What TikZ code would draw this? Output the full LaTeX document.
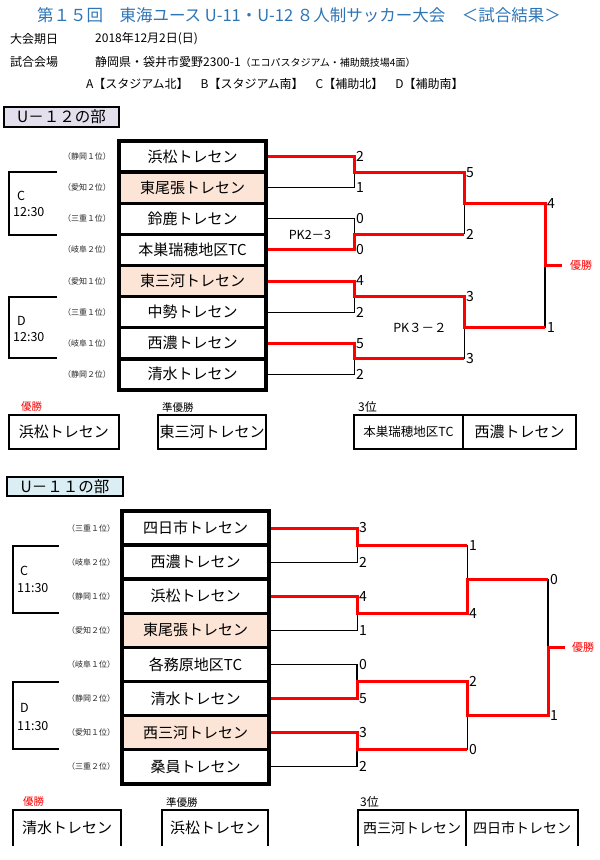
\documentclass[tikz,border=0pt]{standalone}
\usepackage{fontspec}
\setmainfont{Noto Sans CJK JP}
\usetikzlibrary{positioning,calc}
\definecolor{titleblue}{RGB}{46,117,182}
\definecolor{peach}{RGB}{252,228,214}
\definecolor{lavender}{RGB}{228,223,236}
\definecolor{paleblue}{RGB}{218,238,243}
\newcommand{\fsz}[1]{\fontsize{#1}{#1}\selectfont}

\begin{document}
\begin{tikzpicture}[x=1pt, y=-1pt,
  team/.style={draw, line width=3.5pt, minimum width=147pt, inner sep=0pt, outer sep=1.75pt, font=\fsz{15}},
  seed/.style={font=\fsz{8}, text=black!85},
  score/.style={anchor=west, inner sep=0pt, font=\fsz{14}},
  pk/.style={inner sep=0pt, font=\fsz{12.5}},
  info/.style={anchor=west, inner sep=0pt, font=\fsz{12}},
  head/.style={draw, line width=2pt, inner sep=0pt, font=\fsz{15.5}},
  win/.style={draw=red, line width=3pt},
  lose/.style={draw=black, line width=1pt},
  slot/.style={line width=1.5pt},
  tlabel/.style={anchor=west, inner sep=0pt, font=\fsz{12.5}},
  rank/.style={anchor=west, inner sep=0pt, font=\fsz{10.5}},
  resbox/.style={inner sep=0pt, outer sep=0pt, font=\fsz{15}},
  resline/.style={line width=1.8pt}
]
\useasboundingbox (0,0) rectangle (600,860);

\node[font=\fsz{16.5}, text=titleblue] (title) at (299,15) {第１５回　東海ユース U-11・U-12 ８人制サッカー大会　＜試合結果＞};
\node[info] (datekey) at (10,39) {大会期日};
\node[info] (date) at (95,39) {2018年12月2日(日)};
\node[info] (placekey) at (10,62) {試合会場};
\node[info] (place) at (95,62) {静岡県・袋井市愛野2300-1\fsz{10}（エコパスタジアム・補助競技場4面）};
\node[info] (fields) at (86,84) {A【スタジアム北】　B【スタジアム南】　C【補助北】　D【補助南】};

\node[head, fill=lavender, minimum width=115pt, minimum height=20pt] (u12head) at (61.5,116.5) {U－１２の部};

\node[team, minimum height=31.1pt] (a1) at (192.5,156.6) {浜松トレセン};
\node[team, minimum height=31.1pt, fill=peach] (a2) at (192.5,187.7) {東尾張トレセン};
\node[team, minimum height=31.1pt] (a3) at (192.5,218.8) {鈴鹿トレセン};
\node[team, minimum height=31.1pt] (a4) at (192.5,249.9) {本巣瑞穂地区TC};
\node[team, minimum height=31.1pt, fill=peach] (a5) at (192.5,281) {東三河トレセン};
\node[team, minimum height=31.1pt] (a6) at (192.5,312.1) {中勢トレセン};
\node[team, minimum height=31.1pt] (a7) at (192.5,343.2) {西濃トレセン};
\node[team, minimum height=31.1pt] (a8) at (192.5,374.3) {清水トレセン};

\node[seed] (a1s) at (87,156.6) {（静岡１位）};
\node[seed] (a2s) at (87,187.7) {（愛知２位）};
\node[seed] (a3s) at (87,218.8) {（三重１位）};
\node[seed] (a4s) at (87,249.9) {（岐阜２位）};
\node[seed] (a5s) at (87,281) {（愛知１位）};
\node[seed] (a6s) at (87,312.1) {（三重１位）};
\node[seed] (a7s) at (87,343.2) {（岐阜１位）};
\node[seed] (a8s) at (87,374.3) {（静岡２位）};

\draw[slot] (57,172) -| (9,235) -- (57,235);
\node[tlabel] (acslot) at (17,196) {C};
\node[tlabel] (actime) at (13,212) {12:30};
\draw[slot] (57,297) -| (9,358) -- (57,358);
\node[tlabel] (adslot) at (17,321) {D};
\node[tlabel] (adtime) at (13,337) {12:30};

\coordinate (am1) at (354,172.15);
\coordinate (am2) at (354,234.35);
\coordinate (am3) at (354,296.55);
\coordinate (am4) at (354,358.75);
\coordinate (ak1) at (464,172.15);
\coordinate (ak2) at (464,234.35);
\coordinate (ak3) at (464,296.55);
\coordinate (ak4) at (464,358.75);
\coordinate (an1) at (464,203.25);
\coordinate (an2) at (464,327.65);
\coordinate (af1) at (545,203.25);
\coordinate (af2) at (545,327.65);
\coordinate (ag) at (545,265.45);
\coordinate (aw) at (562,265.45);

\draw[lose] (a2.east) -| (am1);
\draw[lose] (a3.east) -| (am2);
\draw[lose] (a6.east) -| (am3);
\draw[lose] (a8.east) -| (am4);
\draw[lose] (ak2) -- (an1);
\draw[lose] (ak4) -- (an2);
\draw[lose, line width=1.6pt] (af2) -- (ag);
\draw[win] (a1.east) -| (am1) -- (ak1) -- (an1) -- (af1) -- (ag) -- (aw);
\draw[win] (a4.east) -| (am2) -- (ak2);
\draw[win] (a5.east) -| (am3) -- (ak3) -- (an2) -- (af2);
\draw[win] (a7.east) -| (am4) -- (ak4);

\node[score] (a1p) at (356,156.6) {2};
\node[score] (a2p) at (356,187.7) {1};
\node[score] (a3p) at (356,218.8) {0};
\node[score] (a4p) at (356,249.9) {0};
\node[score] (a5p) at (356,281) {4};
\node[score] (a6p) at (356,312.1) {2};
\node[score] (a7p) at (356,343.2) {5};
\node[score] (a8p) at (356,374.3) {2};
\node[score] (ak1p) at (466,172.15) {5};
\node[score] (ak2p) at (466,234.35) {2};
\node[score] (ak3p) at (466,296.55) {3};
\node[score] (ak4p) at (466,358.75) {3};
\node[score] (af1p) at (547,203.25) {4};
\node[score] (af2p) at (547,327.65) {1};
\node[pk] (apk1) at (310,235) {PK2－3};
\node[pk] (apk2) at (420,328) {PK３－２};
\node[rank, font=\fsz{11}, text=red] (awin) at (570,265.45) {優勝};

\node[rank, text=red] (a1rank) at (21,407) {優勝};
\node[rank] (a2rank) at (162,407) {準優勝};
\node[rank, font=\fsz{12}] (a3rank) at (358,407) {3位};
\node[resbox, draw, line width=2pt, minimum width=110pt, minimum height=34pt] (afirst) at (64,432) {浜松トレセン};
\node[resbox, draw, line width=2pt, minimum width=108pt, minimum height=34pt] (asecond) at (212,432) {東三河トレセン};
\node[resbox, draw, line width=1.6pt, minimum width=109pt, minimum height=34pt, font=\fsz{12.5}] (athird) at (408.5,432) {本巣瑞穂地区TC};
\node[resbox, draw, line width=1.6pt, minimum width=113pt, minimum height=34pt] (athirdb) at (519.5,432) {西濃トレセン};

\node[head, fill=paleblue, minimum width=116pt, minimum height=19pt] (u11head) at (65,486.5) {U－１１の部};

\node[team, minimum height=34.1pt] (b1) at (195.5,528) {四日市トレセン};
\node[team, minimum height=34.1pt] (b2) at (195.5,562.1) {西濃トレセン};
\node[team, minimum height=34.1pt] (b3) at (195.5,596.2) {浜松トレセン};
\node[team, minimum height=34.1pt, fill=peach] (b4) at (195.5,630.3) {東尾張トレセン};
\node[team, minimum height=34.1pt] (b5) at (195.5,664.4) {各務原地区TC};
\node[team, minimum height=34.1pt] (b6) at (195.5,698.5) {清水トレセン};
\node[team, minimum height=34.1pt, fill=peach] (b7) at (195.5,732.6) {西三河トレセン};
\node[team, minimum height=34.1pt] (b8) at (195.5,766.7) {桑員トレセン};

\node[seed] (b1s) at (91,528) {（三重１位）};
\node[seed] (b2s) at (91,562.1) {（岐阜２位）};
\node[seed] (b3s) at (91,596.2) {（静岡１位）};
\node[seed] (b4s) at (91,630.3) {（愛知２位）};
\node[seed] (b5s) at (91,664.4) {（岐阜１位）};
\node[seed] (b6s) at (91,698.5) {（静岡２位）};
\node[seed] (b7s) at (91,732.6) {（愛知１位）};
\node[seed] (b8s) at (91,766.7) {（三重２位）};

\draw[slot] (59,546) -| (13,613) -- (59,613);
\node[tlabel] (bcslot) at (20,571) {C};
\node[tlabel] (bctime) at (17,588) {11:30};
\draw[slot] (59,682) -| (13,749) -- (59,749);
\node[tlabel] (bdslot) at (20,708) {D};
\node[tlabel] (bdtime) at (17,726) {11:30};

\coordinate (bm1) at (357,545.05);
\coordinate (bm2) at (357,613.25);
\coordinate (bm3) at (357,681.45);
\coordinate (bm4) at (357,749.65);
\coordinate (bk1) at (467,545.05);
\coordinate (bk2) at (467,613.25);
\coordinate (bk3) at (467,681.45);
\coordinate (bk4) at (467,749.65);
\coordinate (bn1) at (467,579.15);
\coordinate (bn2) at (467,715.55);
\coordinate (bf1) at (548,579.15);
\coordinate (bf2) at (548,715.55);
\coordinate (bg) at (548,647.35);
\coordinate (bw) at (565,647.35);

\draw[lose] (b2.east) -| (bm1);
\draw[lose] (b4.east) -| (bm2);
\draw[lose, line width=1.5pt] (b5.east) -| (bm3);
\draw[lose, line width=1.5pt] (b8.east) -| (bm4);
\draw[lose] (bk1) -- (bn1);
\draw[lose] (bk4) -- (bn2);
\draw[lose, line width=1.6pt] (bf1) -- (bg);
\draw[win] (b1.east) -| (bm1) -- (bk1);
\draw[win] (b3.east) -| (bm2) -- (bk2) -- (bn1) -- (bf1);
\draw[win] (b6.east) -| (bm3) -- (bk3) -- (bn2) -- (bf2) -- (bg) -- (bw);
\draw[win] (b7.east) -| (bm4) -- (bk4);

\node[score] (b1p) at (359,528) {3};
\node[score] (b2p) at (359,562.1) {2};
\node[score] (b3p) at (359,596.2) {4};
\node[score] (b4p) at (359,630.3) {1};
\node[score] (b5p) at (359,664.4) {0};
\node[score] (b6p) at (359,698.5) {5};
\node[score] (b7p) at (359,732.6) {3};
\node[score] (b8p) at (359,766.7) {2};
\node[score] (bk1p) at (469,545.05) {1};
\node[score] (bk2p) at (469,613.25) {4};
\node[score] (bk3p) at (469,681.45) {2};
\node[score] (bk4p) at (469,749.65) {0};
\node[score] (bf1p) at (550,579.15) {0};
\node[score] (bf2p) at (550,715.55) {1};
\node[rank, font=\fsz{11}, text=red] (bwin) at (572,647.35) {優勝};

\node[rank, text=red] (b1rank) at (23,802) {優勝};
\node[rank] (b2rank) at (166,802) {準優勝};
\node[rank, font=\fsz{12}] (b3rank) at (360,802) {3位};
\node[resbox, minimum width=108pt, minimum height=36pt] (bfirst) at (67,828) {清水トレセン};
\node[resbox, minimum width=106pt, minimum height=36pt] (bsecond) at (215,828) {浜松トレセン};
\node[resbox, minimum width=108pt, minimum height=36pt, font=\fsz{14}] (bthird) at (412,828) {西三河トレセン};
\node[resbox, minimum width=112pt, minimum height=36pt, font=\fsz{14}] (bthirdb) at (522,828) {四日市トレセン};
\draw[resline] (bfirst.south west) |- (bfirst.north east) -- (bfirst.south east);
\draw[resline] (bsecond.south west) |- (bsecond.north east) -- (bsecond.south east);
\draw[resline] (bthird.south west) |- (bthirdb.north east) -- (bthirdb.south east);
\draw[resline, line width=1.2pt] (bthird.north east) -- (bthird.south east);

\end{tikzpicture}
\end{document}
